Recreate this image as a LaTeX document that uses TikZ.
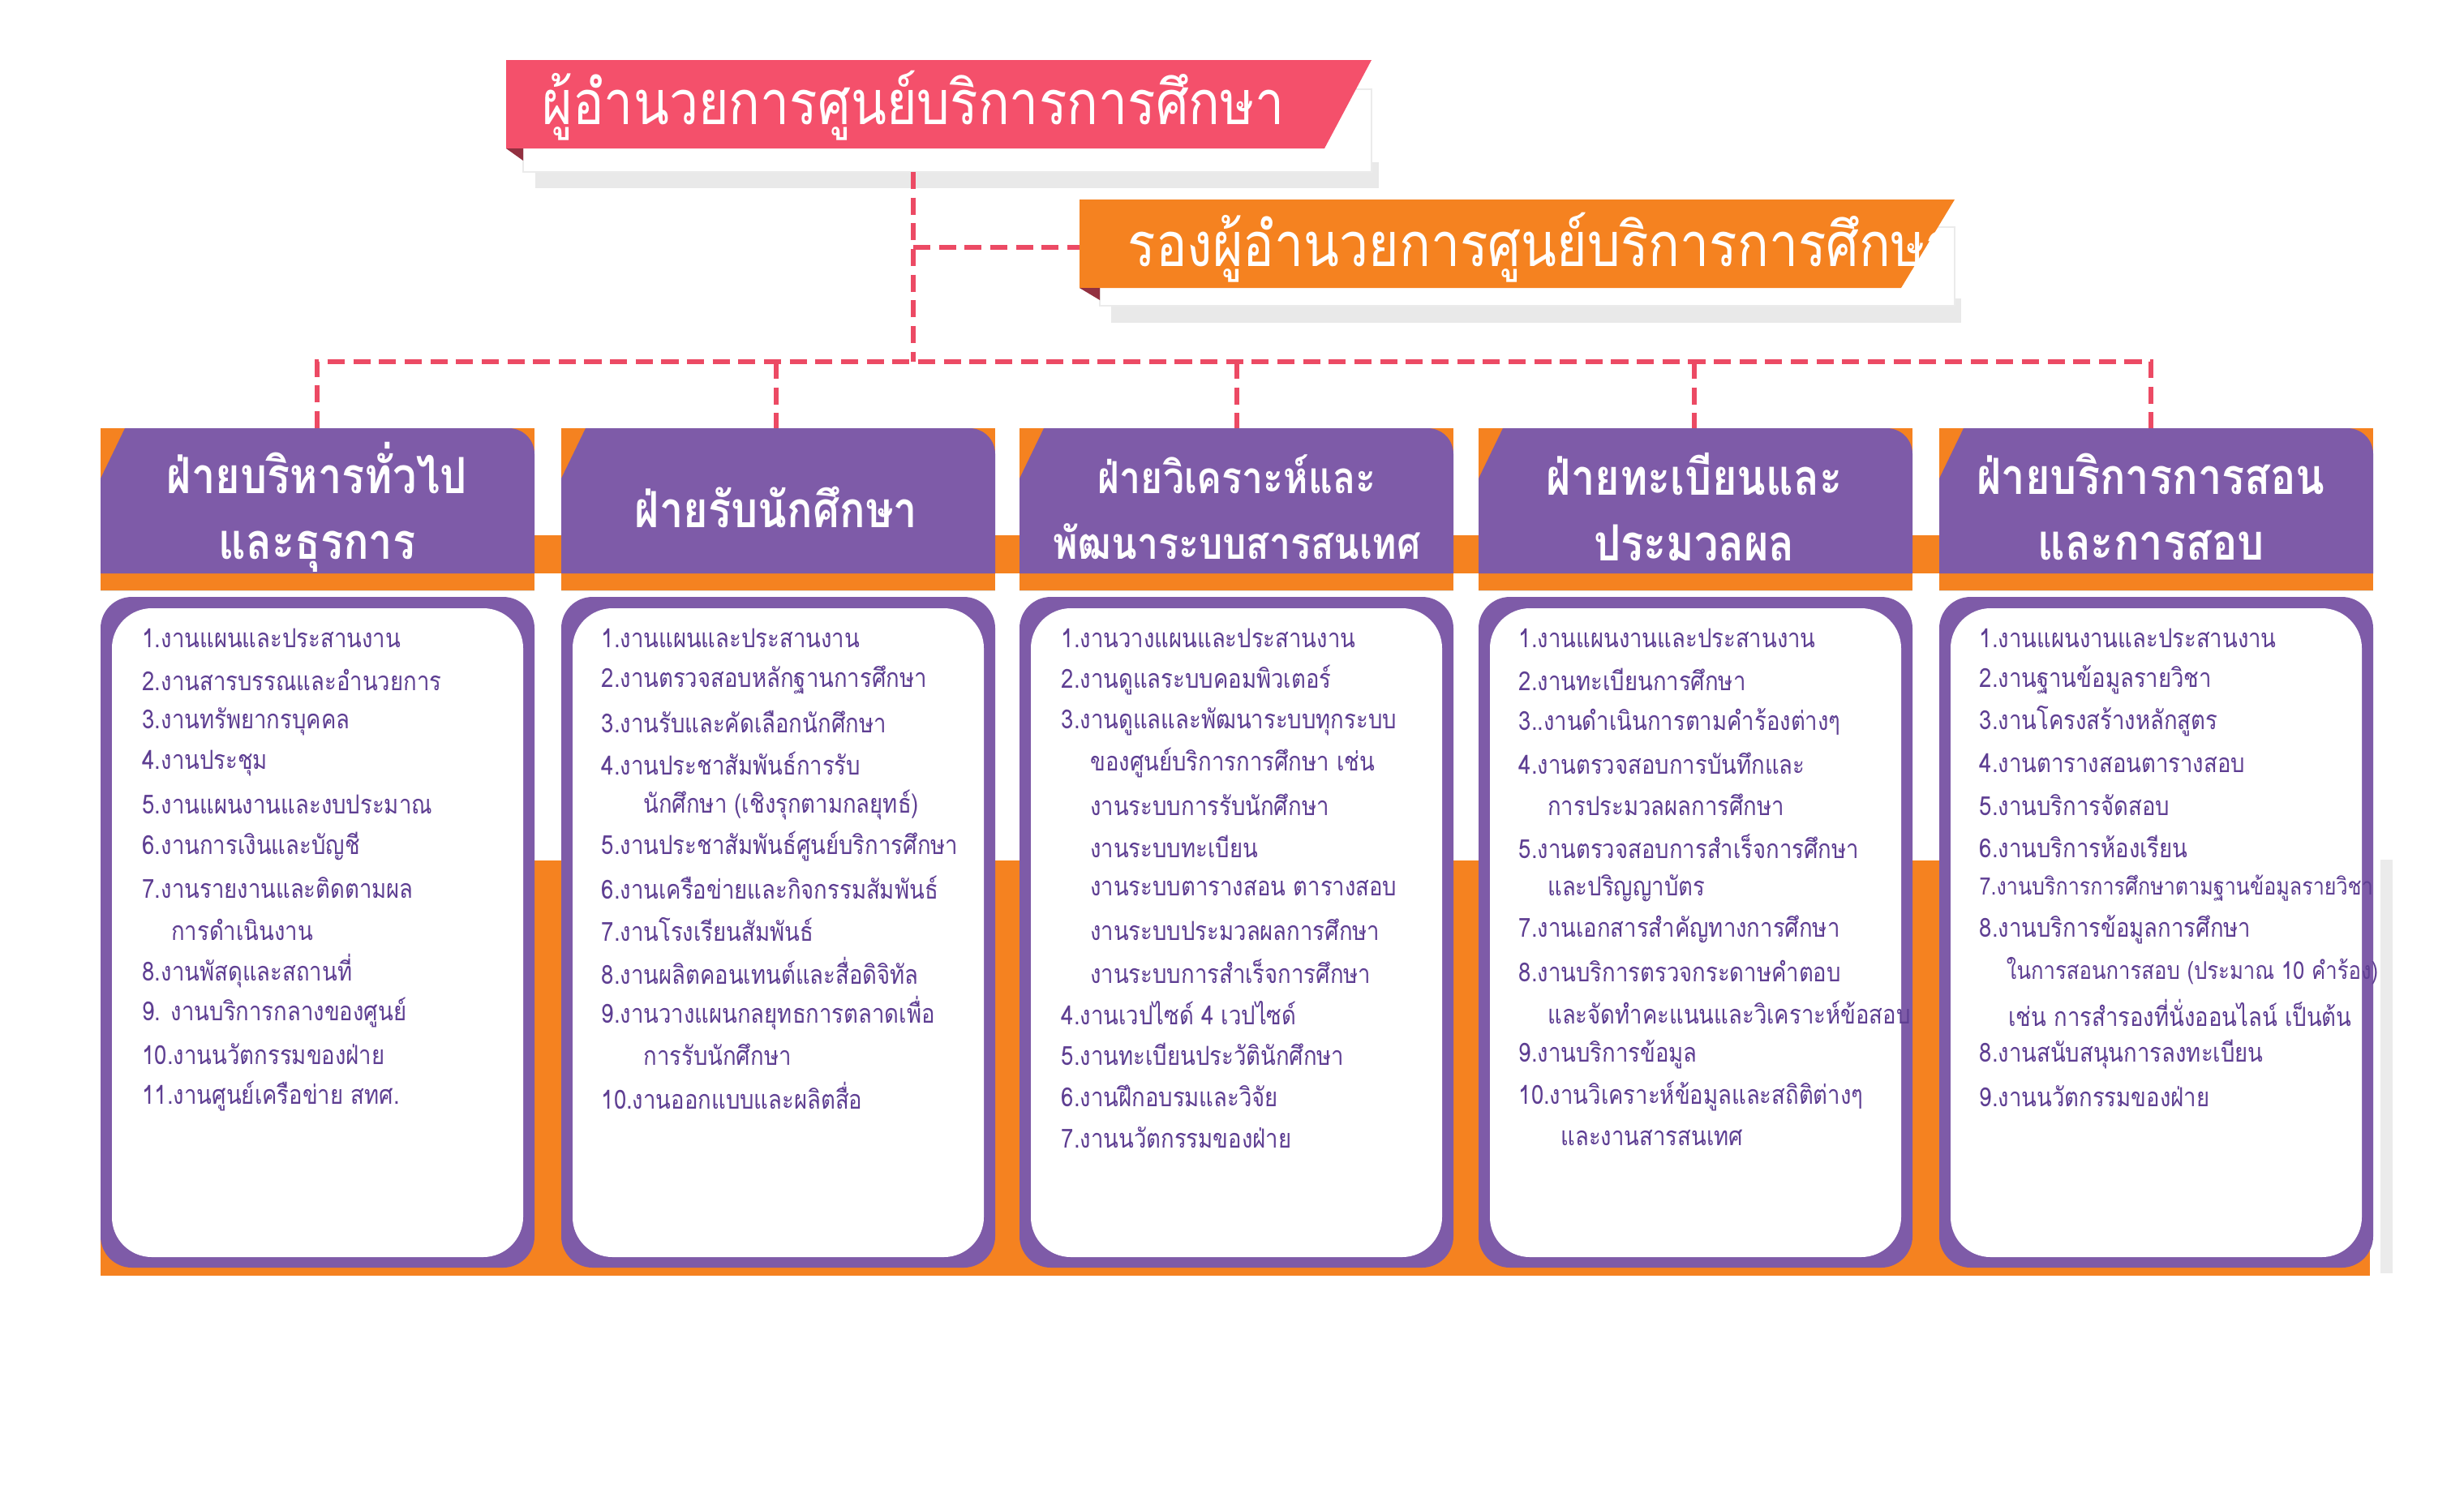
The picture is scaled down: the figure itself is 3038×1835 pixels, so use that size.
\documentclass[tikz,border=0pt]{standalone}
\usepackage{fontspec}
\setmainfont[Script=Thai,FakeStretch=0.85]{Loma}
\usetikzlibrary{calc}
\definecolor{cred}{HTML}{F4506B}
\definecolor{corange}{HTML}{F58220}
\definecolor{cpurple}{HTML}{7E5BA8}
\definecolor{ctext}{HTML}{5E3E92}
\definecolor{cdash}{HTML}{EC4A64}
\tikzset{
 conn/.style={draw=cdash,line width=1.6pt,dash pattern=on 6pt off 3pt},
 item/.style={anchor=west,text=ctext,font=\fontsize{9.2}{11}\selectfont,inner sep=0pt},
 head/.style={text=white,font=\bfseries\fontsize{17.5}{23}\selectfont,align=center},
 title/.style={text=white,font=\fontsize{21.5}{24}\selectfont,anchor=west,inner sep=0pt},
 shade/.style={fill=black!12,opacity=0.7},
}
\begin{document}
\begin{tikzpicture}[x=0.01cm,y=-0.01cm]
\fill[white] (0,0) rectangle (3038,1835);
\useasboundingbox (0,0) rectangle (3038,1835);
% title boxes
\fill[shade] (660,200) rectangle (1700,232);
\fill[white,draw=black!8] (645,110) rectangle (1691,212);
\fill[cred] (624,74) -- (1691,74) -- (1633,183) -- (624,183) -- cycle;
\fill[cred!60!black] (624,183) -- (645,183) -- (645,198) -- cycle;
\node[title] (t1) at (668,130) {ผู้อำนวยการศูนย์บริการการศึกษา};
\fill[shade] (1370,368) rectangle (2418,398);
\fill[white,draw=black!8] (1356,280) rectangle (2410,377);
\fill[corange] (1331,246) -- (2410,246) -- (2344,355) -- (1331,355) -- cycle;
\fill[cred!60!black] (1331,355) -- (1356,355) -- (1356,370) -- cycle;
\node[title] (t2) at (1390,305) {รองผู้อำนวยการศูนย์บริการการศึกษา};
% connectors
\coordinate (j0) at (1126,212);
\coordinate (j1) at (1126,305);
\coordinate (j2) at (1126,446);
\draw[conn] (j0) -- (j2);
\draw[conn] (j1) -- (1331,305);
\draw[conn] (391,528) -- (391,446) -- (2652,446) -- (2652,528);
\foreach \x in {957,1525,2089} \draw[conn] (\x,446) -- (\x,528);
% orange bands
\fill[corange] (124,660) rectangle (2922,707);
\fill[corange] (124,1061) rectangle (2922,1573);
\fill[black!8] (2935,1060) rectangle (2950,1570);
% columns
\foreach \i/\cx in {0/124,1/692,2/1257,3/1823,4/2391}{
  \fill[black!10] (\cx,707) rectangle ++(535,22);
  \fill[corange] (\cx,528) rectangle ++(535,200);
  \fill[cpurple] (\cx+535,707) [rounded corners=9pt] -- (\cx+535,528) [sharp corners] -- (\cx+30,528) -- (\cx,590) -- (\cx,707) -- cycle;
  \fill[cpurple] (\cx,1563) [rounded corners=11pt] -- (\cx,736) -- (\cx+535,736) -- (\cx+535,1563) -- cycle;
  \fill[white] (\cx+14,1550) [rounded corners=14pt] -- (\cx+14,750) -- (\cx+521,750) -- (\cx+521,1550) -- cycle;
}
\node[head] (h1) at (391,625) {ฝ่ายบริหารทั่วไป\\และธุรการ};
\node[head] (h2) at (957,625) {ฝ่ายรับนักศึกษา};
\node[head,font=\bfseries\fontsize{15.5}{23}\selectfont] (h3) at (1525,625) {ฝ่ายวิเคราะห์และ\\พัฒนาระบบสารสนเทศ};
\node[head] (h4) at (2089,625) {ฝ่ายทะเบียนและ\\ประมวลผล};
\node[head] (h5) at (2652,625) {ฝ่ายบริการการสอน\\และการสอบ};
% lists
\foreach \t [count=\n from 0] in {1.งานแผนและประสานงาน,2.งานสารบรรณและอำนวยการ,3.งานทรัพยากรบุคคล,4.งานประชุม,5.งานแผนงานและงบประมาณ,6.งานการเงินและบัญชี,7.งานรายงานและติดตามผล,\hspace{1.1em}การดำเนินงาน,8.งานพัสดุและสถานที่,9. งานบริการกลางของศูนย์,10.งานนวัตกรรมของฝ่าย,11.งานศูนย์เครือข่าย สทศ.}
  \node[item] (a\n) at (175,787+51.3*\n) {\t};
\foreach \t [count=\n from 0] in {1.งานแผนและประสานงาน,2.งานตรวจสอบหลักฐานการศึกษา,3.งานรับและคัดเลือกนักศึกษา,4.งานประชาสัมพันธ์การรับ,\hspace{1.6em}นักศึกษา (เชิงรุกตามกลยุทธ์),5.งานประชาสัมพันธ์ศูนย์บริการศึกษา,6.งานเครือข่ายและกิจกรรมสัมพันธ์,7.งานโรงเรียนสัมพันธ์,8.งานผลิตคอนเทนต์และสื่อดิจิทัล,9.งานวางแผนกลยุทธการตลาดเพื่อ,\hspace{1.6em}การรับนักศึกษา,10.งานออกแบบและผลิตสื่อ}
  \node[item] (b\n) at (741,787+51.3*\n) {\t};
\foreach \t [count=\n from 0] in {1.งานวางแผนและประสานงาน,2.งานดูแลระบบคอมพิวเตอร์,3.งานดูแลและพัฒนาระบบทุกระบบ,\hspace{1.1em}ของศูนย์บริการการศึกษา เช่น,\hspace{1.1em}งานระบบการรับนักศึกษา,\hspace{1.1em}งานระบบทะเบียน,\hspace{1.1em}งานระบบตารางสอน ตารางสอบ,\hspace{1.1em}งานระบบประมวลผลการศึกษา,\hspace{1.1em}งานระบบการสำเร็จการศึกษา,4.งานเวปไซด์ 4 เวปไซด์,5.งานทะเบียนประวัตินักศึกษา,6.งานฝึกอบรมและวิจัย,7.งานนวัตกรรมของฝ่าย}
  \node[item] (c\n) at (1308,787+51.3*\n) {\t};
\foreach \t [count=\n from 0] in {1.งานแผนงานและประสานงาน,2.งานทะเบียนการศึกษา,3..งานดำเนินการตามคำร้องต่างๆ,4.งานตรวจสอบการบันทึกและ,\hspace{1.1em}การประมวลผลการศึกษา,5.งานตรวจสอบการสำเร็จการศึกษา,\hspace{1.1em}และปริญญาบัตร,7.งานเอกสารสำคัญทางการศึกษา,8.งานบริการตรวจกระดาษคำตอบ,\hspace{1.1em}และจัดทำคะแนนและวิเคราะห์ข้อสอบ,9.งานบริการข้อมูล,10.งานวิเคราะห์ข้อมูลและสถิติต่างๆ,\hspace{1.6em}และงานสารสนเทศ}
  \node[item] (d\n) at (1872,787+51.3*\n) {\t};
\foreach \t [count=\n from 0] in {1.งานแผนงานและประสานงาน,2.งานฐานข้อมูลรายวิชา,3.งานโครงสร้างหลักสูตร,4.งานตารางสอนตารางสอบ,5.งานบริการจัดสอบ,6.งานบริการห้องเรียน,{\fontsize{8.4}{10}\selectfont 7.งานบริการการศึกษาตามฐานข้อมูลรายวิชา},8.งานบริการข้อมูลการศึกษา,{\fontsize{8.6}{10}\selectfont\hspace{1.1em}ในการสอนการสอบ (ประมาณ 10 คำร้อง)},\hspace{1.1em}เช่น การสำรองที่นั่งออนไลน์ เป็นต้น,8.งานสนับสนุนการลงทะเบียน,9.งานนวัตกรรมของฝ่าย}
  \node[item] (e\n) at (2440,787+51.3*\n) {\t};
\end{tikzpicture}
\end{document}
